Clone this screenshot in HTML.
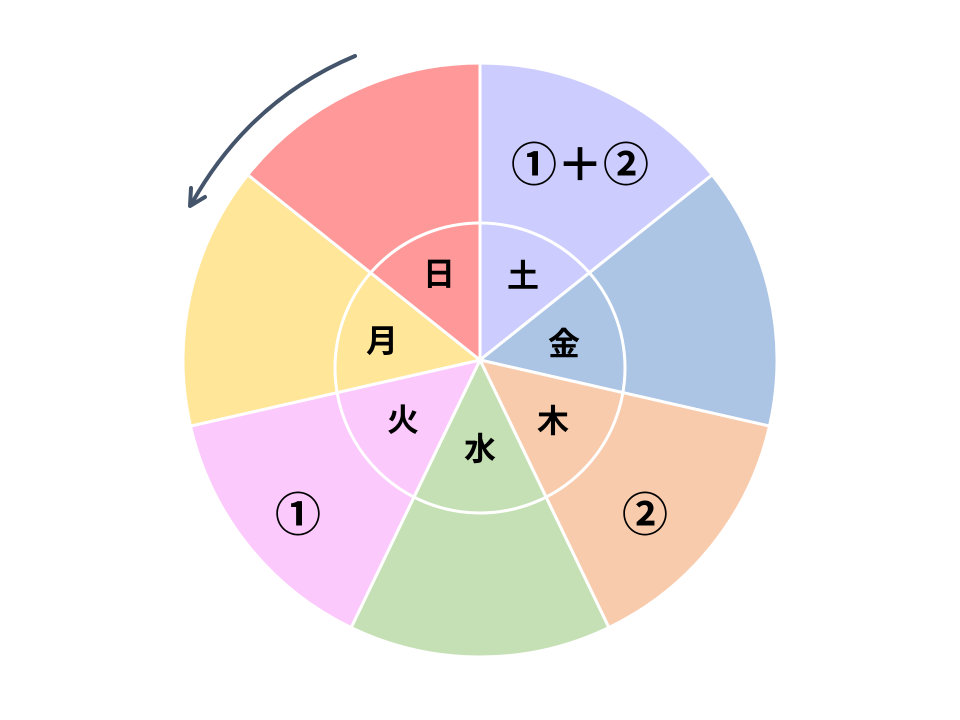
<!DOCTYPE html>
<html><head><meta charset="utf-8"><style>
html,body{margin:0;padding:0;background:#fff;}
svg{display:block}
text{font-family:"Liberation Sans","Noto Sans CJK JP",sans-serif;font-weight:bold;fill:#000;text-anchor:middle;dominant-baseline:central}
</style></head><body>
<svg width="960" height="720" viewBox="0 0 960 720">
<g stroke="#fff" stroke-width="3">
<path d="M480,360 L480,63 A297,297 0 0 1 712.2,174.8 Z" fill="#CCCCFF"/>
<path d="M480,360 L712.2,174.8 A297,297 0 0 1 769.5,426.1 Z" fill="#ADC5E5"/>
<path d="M480,360 L769.5,426.1 A297,297 0 0 1 608.9,627.6 Z" fill="#F8CBAD"/>
<path d="M480,360 L608.9,627.6 A297,297 0 0 1 351.1,627.6 Z" fill="#C5E0B4"/>
<path d="M480,360 L351.1,627.6 A297,297 0 0 1 190.5,426.1 Z" fill="#FCC9FC"/>
<path d="M480,360 L190.5,426.1 A297,297 0 0 1 247.8,174.8 Z" fill="#FFE699"/>
<path d="M480,360 L247.8,174.8 A297,297 0 0 1 480,63 Z" fill="#FF9999"/>
</g>
<circle cx="480" cy="368" r="145" fill="none" stroke="#fff" stroke-width="3"/>
<g font-size="32">
<text x="439" y="274">日</text>
<text x="523" y="276">土</text>
<text x="564" y="344">金</text>
<text x="553" y="421">木</text>
<text x="480" y="449">水</text>
<text x="403" y="420">火</text>
<text x="382" y="341">月</text>
</g>
<g font-size="46">
<text x="580" y="165">①＋②</text>
<text x="298" y="515">①</text>
<text x="645" y="515">②</text>
</g>
<g fill="none" stroke="#44546A" stroke-width="4" stroke-linecap="round" stroke-linejoin="round">
<path d="M355,56 Q250,100 192,203"/>
<path d="M191,188 L190,206 L205,197"/>
</g>
</svg>
</body></html>
